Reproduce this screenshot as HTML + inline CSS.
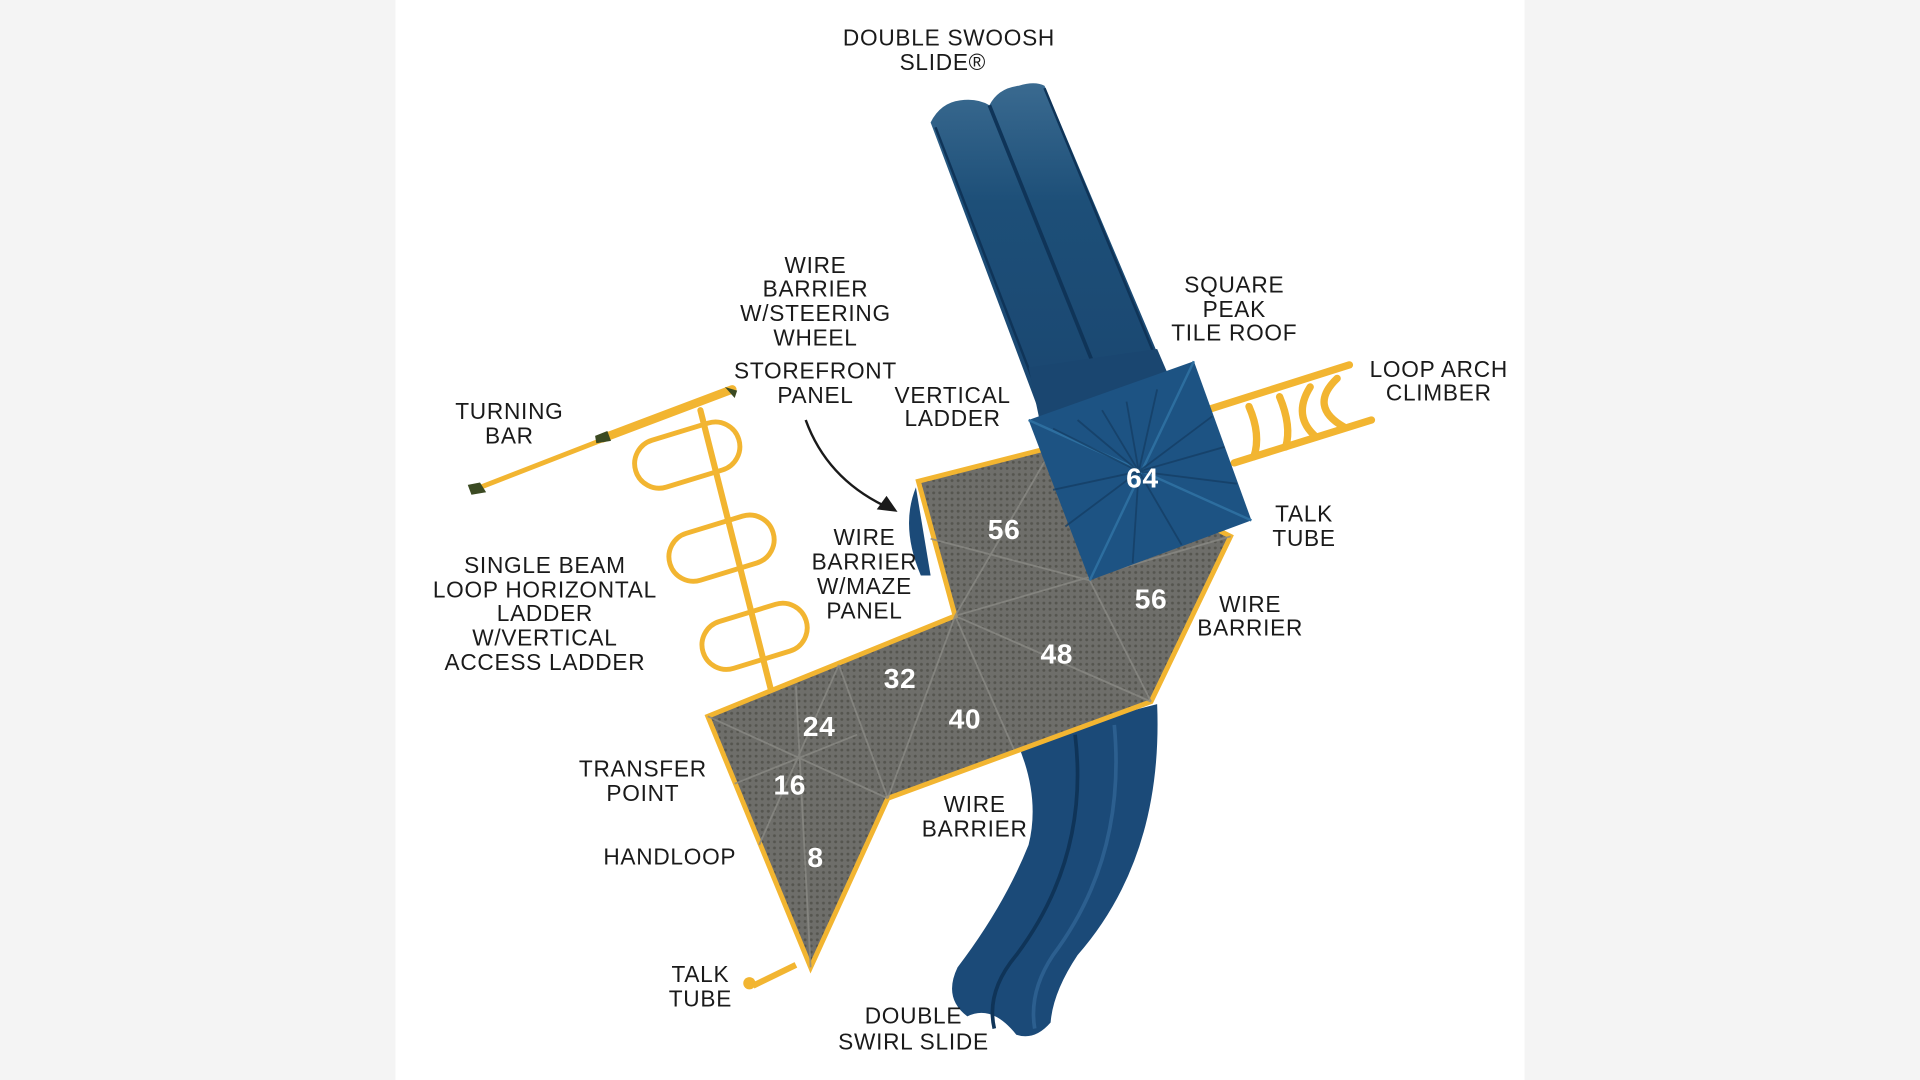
<!DOCTYPE html>
<html><head><meta charset="utf-8"><style>
html,body{margin:0;padding:0;background:#f4f4f4;}
svg{display:block}
text{font-family:"Liberation Sans",sans-serif;font-size:18.5px;fill:#1a1a1a;text-anchor:middle;letter-spacing:0.6px}
.num{fill:#fff;font-weight:bold;font-size:23px;letter-spacing:0.5px}
</style></head><body>
<svg width="1920" height="1080" viewBox="0 0 1568 882" xmlns="http://www.w3.org/2000/svg">
<defs>
<pattern id="dots" width="5" height="5" patternUnits="userSpaceOnUse"><rect width="5" height="5" fill="#6e6e6a"/><circle cx="2.5" cy="2.5" r="1.2" fill="#55554f"/></pattern>
<linearGradient id="sg" x1="0" y1="0" x2="0" y2="1"><stop offset="0" stop-color="#3a6a90"/><stop offset="0.35" stop-color="#1d4f78"/><stop offset="1" stop-color="#1a4670"/></linearGradient>
</defs>
<rect x="0" y="0" width="1568" height="882" fill="#f4f4f4"/>
<rect x="323" y="0" width="922" height="882" fill="#ffffff"/>

<!-- top slide -->
<path d="M760,100 Q768,84 784,82 Q798,80 808,86 Q815,72 832,70 Q845,66 853,70 L948,295 L852,345 Z" fill="url(#sg)"/>
<path d="M808,86 L902,320" stroke="#0f3458" stroke-width="3"/>
<path d="M764,104 L855,340" stroke="#0f3458" stroke-width="2"/>
<path d="M853,72 L945,295" stroke="#0f3458" stroke-width="2"/>
<path d="M840,300 L945,285 L960,320 L850,348 Z" fill="#1a4670"/>

<!-- bottom slide -->
<path d="M830,605 L945,575 Q950,700 880,780 Q860,810 858,835 Q845,850 830,845 Q810,820 790,830 Q770,815 782,790 Q820,740 840,690 Q850,650 830,605 Z" fill="#1b4a78"/>
<path d="M878,600 Q890,700 830,780 Q805,810 812,840" stroke="#0f3458" stroke-width="3" fill="none"/>
<path d="M910,592 Q920,700 860,780 Q840,810 845,840" stroke="#2c5f8f" stroke-width="3" fill="none"/>

<!-- blue side elements -->
<path d="M748,398 Q735,430 752,470 L760,470 Z" fill="#1b4a78"/>

<!-- loop arch climber -->
<g stroke="#f2b531" stroke-width="6" fill="none" stroke-linecap="round">
<line x1="985" y1="335" x2="1102" y2="298"/>
<line x1="1008" y1="378" x2="1120" y2="343"/>
<path d="M1020,332 Q1030,355 1024,373"/>
<path d="M1045,324 Q1055,348 1050,365"/>
<path d="M1070,316 Q1055,340 1075,357"/>
<path d="M1092,309 Q1068,332 1098,349"/>
</g>

<!-- ladder -->
<g stroke="#f2b531" fill="none" stroke-linecap="round">
<line x1="387" y1="400" x2="495" y2="358" stroke-width="4"/>
<line x1="492" y1="358" x2="598" y2="318" stroke-width="7"/>
<line x1="572" y1="335" x2="630" y2="565" stroke-width="5"/>
<rect x="517" y="352" width="88" height="40" rx="20" transform="rotate(-17 560 371)" stroke-width="4"/>
<rect x="545" y="428" width="88" height="40" rx="20" transform="rotate(-17 588 447)" stroke-width="4"/>
<rect x="572" y="500" width="88" height="40" rx="20" transform="rotate(-17 615 519)" stroke-width="4"/>
</g>
<g fill="#3b4a22"><path d="M382,396 l10,-2 l5,8 l-12,2z"/><path d="M486,356 l10,-4 l3,8 l-12,2z"/><path d="M592,316 l10,3 l-2,6z"/></g>

<!-- deck -->
<path d="M750,393 L860,365 L1005,438 L940,573 L725,652 L662,790 L578,585 L780,503 Z" fill="url(#dots)" stroke="#f2b531" stroke-width="4"/>
<g stroke="#8a8a84" stroke-width="1.5" fill="none" opacity="0.8">
<path d="M780,503 L940,573 M780,503 L860,365 M780,503 L725,652 M685,543 L725,652 M685,543 L620,690 M578,585 L725,652 M600,640 L700,600 M780,503 L828,612 M890,474 L940,573 M760,440 L890,474 M780,503 L1005,438 M650,560 L662,790"/>
</g>

<!-- roof -->
<polygon points="840,343 975,295 1022,425 890,474" fill="#1d5383"/>
<g stroke="#2d6e9f" stroke-width="2">
<line x1="840" y1="343" x2="1022" y2="425"/><line x1="975" y1="295" x2="890" y2="474"/>
</g>
<g stroke="#153f66" stroke-width="1.5" opacity="0.8">
<line x1="860" y1="350" x2="930" y2="385"/><line x1="880" y1="343" x2="930" y2="385"/><line x1="900" y1="335" x2="930" y2="385"/><line x1="920" y1="328" x2="930" y2="385"/><line x1="945" y1="318" x2="930" y2="385"/>
<line x1="990" y1="340" x2="930" y2="385"/><line x1="1000" y1="365" x2="930" y2="385"/><line x1="1010" y1="395" x2="930" y2="385"/>
<line x1="860" y1="400" x2="930" y2="385"/><line x1="870" y1="430" x2="930" y2="385"/><line x1="925" y1="460" x2="930" y2="385"/><line x1="965" y1="445" x2="930" y2="385"/>
</g>

<!-- talk tube bottom -->
<path d="M615,805 L650,788" stroke="#f2b531" stroke-width="5"/>
<circle cx="612" cy="803" r="5" fill="#f2b531"/>

<!-- arrow -->
<path d="M658,343 Q675,390 722,413" stroke="#1a1a1a" stroke-width="2" fill="none"/>
<polygon points="733,418 716,416 724,405" fill="#1a1a1a"/>

<!-- numbers -->
<text class="num" x="933" y="398">64</text>
<text class="num" x="820" y="440">56</text>
<text class="num" x="940" y="497">56</text>
<text class="num" x="863" y="542">48</text>
<text class="num" x="735" y="562">32</text>
<text class="num" x="788" y="595">40</text>
<text class="num" x="669" y="601">24</text>
<text class="num" x="645" y="649">16</text>
<text class="num" x="666" y="708">8</text>

<!-- labels -->
<text x="775" y="37">DOUBLE SWOOSH</text><text x="770" y="57">SLIDE®</text>
<text x="666" y="223">WIRE</text><text x="666" y="242">BARRIER</text><text x="666" y="262">W/STEERING</text><text x="666" y="282">WHEEL</text>
<text x="666" y="309">STOREFRONT</text><text x="666" y="329">PANEL</text>
<text x="778" y="329">VERTICAL</text><text x="778" y="348">LADDER</text>
<text x="1008" y="239">SQUARE</text><text x="1008" y="259">PEAK</text><text x="1008" y="278">TILE ROOF</text>
<text x="1175" y="308">LOOP ARCH</text><text x="1175" y="327">CLIMBER</text>
<text x="416" y="342">TURNING</text><text x="416" y="362">BAR</text>
<text x="1065" y="426">TALK</text><text x="1065" y="446">TUBE</text>
<text x="706" y="445">WIRE</text><text x="706" y="465">BARRIER</text><text x="706" y="485">W/MAZE</text><text x="706" y="505">PANEL</text>
<text x="445" y="468">SINGLE BEAM</text><text x="445" y="488">LOOP HORIZONTAL</text><text x="445" y="507">LADDER</text><text x="445" y="527">W/VERTICAL</text><text x="445" y="547">ACCESS LADDER</text>
<text x="1021" y="500">WIRE</text><text x="1021" y="519">BARRIER</text>
<text x="525" y="634">TRANSFER</text><text x="525" y="654">POINT</text>
<text x="796" y="663">WIRE</text><text x="796" y="683">BARRIER</text>
<text x="547" y="706">HANDLOOP</text>
<text x="572" y="802">TALK</text><text x="572" y="822">TUBE</text>
<text x="746" y="836">DOUBLE</text><text x="746" y="857">SWIRL SLIDE</text>
</svg>
</body></html>
